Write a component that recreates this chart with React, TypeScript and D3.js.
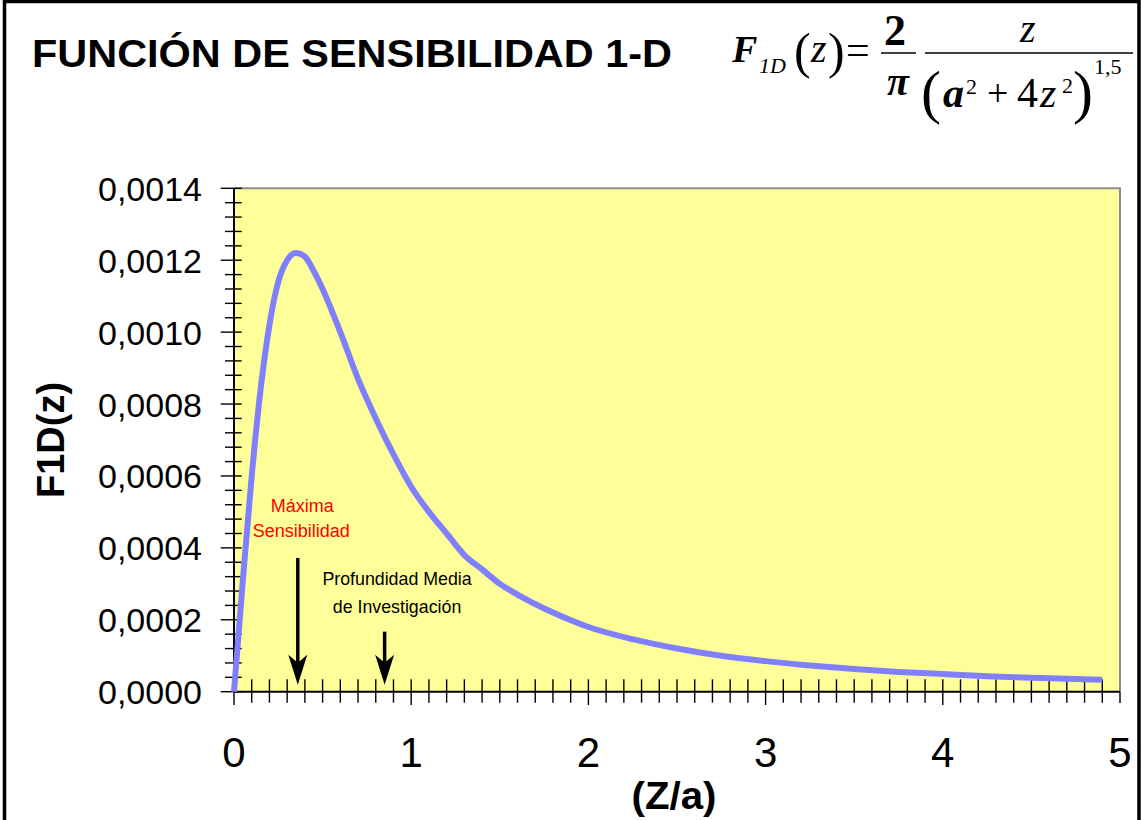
import * as d3 from 'd3';
import React from 'react';

// curve: Z/a vs F1D(z)
const zRatio = [0, 0.05, 0.1, 0.15, 0.2, 0.25, 0.3, 0.35, 0.4, 0.45, 0.5, 0.6, 0.7, 0.8, 0.9, 1.0, 1.1, 1.2, 1.3, 1.4, 1.5, 1.6, 1.8, 2.0, 2.25, 2.5, 2.75, 3.0, 3.25, 3.5, 3.75, 4.0, 4.25, 4.5, 4.75, 4.9];
const f1d = [0, 0.00031, 0.00060, 0.00084, 0.00102, 0.00114, 0.00120, 0.00122, 0.00121, 0.00117, 0.00112, 0.00100, 0.00087, 0.00076, 0.00066, 0.00057, 0.00050, 0.00044, 0.00038, 0.00034, 0.00030, 0.00027, 0.00022, 0.00018, 0.000146, 0.00012, 0.00010, 0.000085, 0.000073, 0.000063, 0.000055, 0.000049, 0.000043, 0.000039, 0.000035, 0.000033];

const xTicks = [0, 1, 2, 3, 4, 5];
const xTickLabels = ['0', '1', '2', '3', '4', '5'];
const yTicks = [0, 0.0002, 0.0004, 0.0006, 0.0008, 0.0010, 0.0012, 0.0014];
const yTickLabels = ['0,0000', '0,0002', '0,0004', '0,0006', '0,0008', '0,0010', '0,0012', '0,0014'];

// arrows: x position, top and tip in data units
const arrowX = [0.36, 0.85];
const arrowTop = [0.000372, 0.000167];
const arrowTip = 0.000019;

const params = {
    left: 234,
    right: 1120,
    top: 188.3,
    bottom: 691.7,
};

const serif = '"Liberation Serif", "Times New Roman", serif';
const sans = '"Liberation Sans", Arial, sans-serif';

export default function App() {
    const x = d3.scaleLinear().domain([0, 5]).range([params.left, params.right]);
    const y = d3.scaleLinear().domain([0, 0.0014]).range([params.bottom, params.top]);

    const pts: [number, number][] = zRatio.map((z, i) => [z, f1d[i]]);
    const line = d3.line<[number, number]>()
        .x(d => x(d[0]))
        .y(d => y(d[1]))
        .curve(d3.curveMonotoneX);

    const xMinor = d3.range(0, 50).map(i => i / 10);
    const yMinor = d3.range(0, 36).map(i => i * 0.00004);

    const arrow = (i: number) => {
        const ax = x(arrowX[i]);
        const y0 = y(arrowTop[i]);
        const y1 = y(arrowTip);
        return (
            <g key={'arr' + i}>
                <line x1={ax} x2={ax} y1={y0} y2={y1 - 20} stroke="#000" strokeWidth={3.5} />
                <path d={`M${ax},${y1} L${ax - 9.5},${y1 - 30} L${ax},${y1 - 22} L${ax + 9.5},${y1 - 30} Z`} fill="#000" />
            </g>
        );
    };

    return (
        <svg width={1141} height={820} style={{ position: 'absolute', left: 0, top: 0, display: 'block', background: '#fff' }}>
            <rect x={4.5} y={1.5} width={1134.5} height={840} fill="#fff" stroke="#000" strokeWidth={3.5} />

            <text x={32} y={67} fontFamily={sans} fontWeight="bold" fontSize={39} textLength={640} lengthAdjust="spacingAndGlyphs">
                FUNCIÓN DE SENSIBILIDAD 1-D
            </text>

            {/* formula */}
            <g fontFamily={serif} fill="#000">
                <text x={732} y={62} fontSize={38} fontWeight="bold" fontStyle="italic">F</text>
                <text x={759} y={73} fontSize={22} fontStyle="italic">1D</text>
                <text x={794} y={68} fontSize={50}>(</text>
                <text x={811} y={62} fontSize={40} fontStyle="italic">z</text>
                <text x={828} y={68} fontSize={50}>)</text>
                <text x={846} y={64} fontSize={42}>=</text>
                <text x={884} y={45} fontSize={44} fontWeight="bold">2</text>
                <line x1={881} x2={916} y1={53} y2={53} stroke="#000" strokeWidth={1.6} />
                <text x={887} y={95} fontSize={40} fontWeight="bold" fontStyle="italic">π</text>
                <line x1={925} x2={1133} y1={53} y2={53} stroke="#000" strokeWidth={1.6} />
                <text x={1020} y={42} fontSize={40} fontStyle="italic">z</text>
                <text x={921} y={112} fontSize={60}>(</text>
                <text x={943} y={107} fontSize={42} fontWeight="bold" fontStyle="italic">a</text>
                <text x={966} y={94} fontSize={22}>2</text>
                <text x={987} y={106} fontSize={38}>+</text>
                <text x={1017} y={107} fontSize={42}>4</text>
                <text x={1040} y={107} fontSize={42} fontStyle="italic">z</text>
                <text x={1062} y={93} fontSize={22}>2</text>
                <text x={1073} y={112} fontSize={60}>)</text>
                <text x={1094} y={74} fontSize={22}>1,5</text>
            </g>

            {/* plot area */}
            <rect x={params.left} y={params.top} width={params.right - params.left} height={params.bottom - params.top} fill="#ffff99" />
            <path d={`M${params.left},${params.top} H${params.right} V${params.bottom}`} fill="none" stroke="#8c8c8c" strokeWidth={2} />

            {/* y axis */}
            {yMinor.map((v, i) => {
                const major = i % 5 === 0;
                return <line key={'ym' + i} x1={major ? 220.7 : 225} x2={241.7} y1={y(v)} y2={y(v)} stroke="#000" strokeWidth={1.4} />;
            })}
            {yTicks.map((v, i) => (
                <text key={'yl' + i} x={202} y={y(v) + 12.5} textAnchor="end" fontFamily={sans} fontSize={34}>{yTickLabels[i]}</text>
            ))}

            {/* x axis */}
            {xMinor.map((v, i) => {
                const major = i % 10 === 0;
                return <line key={'xm' + i} x1={x(v)} x2={x(v)} y1={679.3} y2={major ? 705 : 702.7} stroke="#000" strokeWidth={1.4} />;
            })}
            <line x1={x(5)} x2={x(5)} y1={params.bottom} y2={703} stroke="#000" strokeWidth={1.4} />
            {xTicks.map((v, i) => (
                <text key={'xl' + i} x={x(v)} y={767} textAnchor="middle" fontFamily={sans} fontSize={42}>{xTickLabels[i]}</text>
            ))}

            <line x1={params.left} x2={params.left} y1={params.top} y2={params.bottom} stroke="#000" strokeWidth={2} />
            <line x1={params.left} x2={params.right} y1={params.bottom} y2={params.bottom} stroke="#000" strokeWidth={2} />

            {/* curve */}
            <path d={line(pts) || ''} fill="none" stroke="#8080ff" strokeWidth={6} strokeLinejoin="round" />

            {/* annotations */}
            <g fontFamily={sans} fontSize={18} textAnchor="middle">
                <text x={x(0.385)} y={y(0.0005)} fill="#ff0000">Máxima</text>
                <text x={x(0.38)} y={y(0.000431)} fill="#ff0000">Sensibilidad</text>
                <text x={x(0.92)} y={y(0.000297)} fill="#000" fontSize={17.8}>Profundidad Media</text>
                <text x={x(0.92)} y={y(0.00022)} fill="#000" fontSize={17.8}>de Investigación</text>
            </g>
            {arrow(0)}
            {arrow(1)}

            {/* axis titles */}
            <text x={674} y={809} textAnchor="middle" fontFamily={sans} fontWeight="bold" fontSize={39} textLength={85} lengthAdjust="spacingAndGlyphs">(Z/a)</text>
            <text transform="translate(64,440) rotate(-90)" textAnchor="middle" fontFamily={sans} fontWeight="bold" fontSize={38}>F1D(z)</text>
        </svg>
    );
}
